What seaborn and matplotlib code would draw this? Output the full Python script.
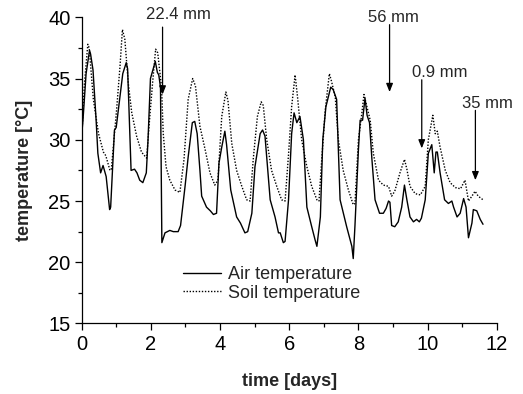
import matplotlib
matplotlib.use("Agg")
import matplotlib.pyplot as plt
import seaborn as sns
import pandas as pd

# Air temperature record (time in days, temperature in degC)
air_days = [0.00, 0.04, 0.13, 0.23, 0.26, 0.33, 0.42, 0.47, 0.55, 0.62, 0.71, 0.81, 0.84,
            0.95, 1.00, 1.10, 1.19, 1.29, 1.33, 1.43, 1.53, 1.60, 1.68, 1.77, 1.87, 1.92,
            1.99, 2.06, 2.13, 2.19, 2.23, 2.28, 2.32, 2.41, 2.55, 2.65, 2.79, 2.86, 2.99,
            3.08, 3.20, 3.27, 3.34, 3.42, 3.47, 3.61, 3.72, 3.81, 3.90, 3.97, 4.05, 4.14,
            4.19, 4.31, 4.48, 4.59, 4.72, 4.80, 4.92, 5.01, 5.16, 5.23, 5.30, 5.45, 5.59,
            5.69, 5.74, 5.83, 5.88, 5.98, 6.07, 6.14, 6.22, 6.31, 6.41, 6.51, 6.65, 6.75,
            6.80, 6.90, 6.97, 7.06, 7.13, 7.20, 7.27, 7.37, 7.47, 7.66, 7.81, 7.85, 7.90,
            8.00, 8.05, 8.12, 8.19, 8.25, 8.32, 8.39, 8.48, 8.61, 8.72, 8.80, 8.87, 8.91,
            8.96, 9.05, 9.15, 9.25, 9.33, 9.40, 9.49, 9.59, 9.68, 9.76, 9.82, 9.93, 10.02,
            10.12, 10.19, 10.24, 10.28, 10.36, 10.49, 10.60, 10.70, 10.75, 10.85, 10.94,
            11.04, 11.11, 11.18, 11.28, 11.32, 11.42, 11.52, 11.60]
air_temp = [30.3, 31.6, 35.4, 37.3, 37.0, 35.7, 31.6, 28.9, 27.3, 27.9, 27.0, 24.3, 24.5,
            30.8, 31.0, 33.3, 35.4, 36.3, 35.8, 27.5, 27.6, 27.3, 26.7, 26.5, 27.3, 30.0,
            35.0, 35.7, 36.4, 35.5, 35.3, 34.3, 21.6, 22.4, 22.6, 22.5, 22.5, 23.0, 26.2,
            28.6, 31.4, 31.5, 30.5, 27.5, 25.4, 24.5, 24.2, 23.9, 24.0, 28.1, 29.4, 30.7,
            29.6, 25.9, 23.7, 23.2, 22.4, 22.5, 24.0, 27.8, 30.5, 30.8, 30.3, 25.1, 23.7,
            22.4, 22.4, 21.6, 21.7, 25.1, 30.5, 32.2, 31.4, 31.9, 30.0, 24.5, 22.9, 21.8,
            21.3, 23.7, 30.0, 32.7, 33.5, 34.3, 34.1, 33.3, 25.1, 22.9, 21.3, 20.3, 23.0,
            29.2, 31.6, 31.6, 33.4, 32.0, 31.4, 28.4, 25.1, 24.0, 24.0, 24.4, 25.0, 24.9,
            23.0, 22.9, 23.3, 24.5, 26.3, 25.1, 23.7, 23.3, 23.5, 23.3, 23.6, 25.1, 28.9,
            29.6, 27.3, 29.0, 29.0, 27.3, 25.1, 24.8, 25.0, 24.5, 23.7, 24.0,
            25.2, 24.5, 22.0, 23.2, 24.3, 24.2, 23.5, 23.1]

# Soil temperature record
soil_days = [0.00, 0.08, 0.18, 0.22, 0.34, 0.49, 0.63, 0.70, 0.82, 0.86, 1.01, 1.11, 1.18,
             1.25, 1.35, 1.45, 1.59, 1.73, 1.88, 1.96, 2.05, 2.14, 2.20, 2.31, 2.36, 2.44,
             2.55, 2.70, 2.84, 2.96, 3.08, 3.21, 3.29, 3.42, 3.57, 3.71, 3.85, 3.94, 4.05,
             4.17, 4.23, 4.34, 4.48, 4.63, 4.77, 4.87, 4.96, 5.08, 5.19, 5.25, 5.35, 5.49,
             5.64, 5.78, 5.88, 5.98, 6.07, 6.17, 6.24, 6.36, 6.51, 6.65, 6.80, 6.86, 6.94,
             7.04, 7.16, 7.22, 7.33, 7.42, 7.56, 7.71, 7.85, 7.90, 8.00, 8.10, 8.16, 8.22,
             8.34, 8.43, 8.58, 8.72, 8.87, 8.96, 9.05, 9.20, 9.33, 9.40, 9.49, 9.64, 9.79,
             9.93, 10.02, 10.15, 10.22, 10.28, 10.36, 10.51, 10.65, 10.80, 10.95, 11.08,
             11.18, 11.28, 11.37, 11.46, 11.60]
soil_temp = [30.0, 34.5, 37.8, 37.5, 33.3, 30.5, 29.0, 28.7, 27.5, 27.6, 32.4, 36.0, 39.0,
             38.2, 34.6, 32.2, 30.3, 29.0, 28.5, 31.5, 34.6, 37.4, 37.1, 34.3, 30.5, 27.8,
             26.7, 25.9, 25.7, 28.4, 33.3, 35.0, 34.4, 31.1, 29.2, 27.3, 26.3, 26.7, 31.9,
             33.9, 33.2, 29.7, 27.5, 26.2, 25.1, 25.0, 28.4, 31.9, 33.1, 32.8, 30.0, 27.5,
             26.2, 25.1, 25.0, 28.8, 32.7, 35.3, 33.5, 30.0, 27.8, 26.2, 25.1, 25.0, 28.4,
             32.4, 35.4, 34.8, 33.5, 30.0, 27.5, 25.9, 24.7, 24.8, 30.0, 32.2, 33.7, 33.0,
             31.6, 28.9, 26.7, 26.3, 26.2, 25.4, 25.8, 27.3, 28.4, 27.6, 26.2, 25.6, 25.5,
             26.2, 30.0, 32.0, 30.5, 30.7, 29.4, 27.5, 26.5, 26.1, 26.0, 26.7,
             25.0, 25.4, 25.8, 25.4, 25.1]

# Rain events: label, day, arrow tail / tip temperature, label anchor
rain_labels = ["22.4 mm", "56 mm", "0.9 mm", "35 mm"]
rain_days = [2.34, 8.90, 9.83, 11.38]
arrow_top = [39.2, 39.4, 34.9, 32.4]
arrow_tip = [33.7, 33.9, 29.3, 26.7]
label_x = [2.81, 9.00, 10.36, 11.72]
label_y = [40.2, 40.0, 35.5, 33.0]

sns.set_style("ticks")
plt.rcParams["font.family"] = ["Liberation Sans", "DejaVu Sans"]
plt.rcParams["axes.edgecolor"] = "black"
plt.rcParams["xtick.color"] = "black"
plt.rcParams["ytick.color"] = "black"

df = pd.concat([
    pd.DataFrame({"day": air_days, "temp": air_temp, "series": "Air temperature"}),
    pd.DataFrame({"day": soil_days, "temp": soil_temp, "series": "Soil temperature"}),
], ignore_index=True)

fig = plt.figure(figsize=(5.23, 3.94), dpi=100)
ax = fig.add_axes([0.156, 0.179, 0.794, 0.777])

sns.lineplot(data=df, x="day", y="temp", style="series", color="black",
             dashes={"Air temperature": "", "Soil temperature": (1, 1.2)},
             estimator=None, sort=False, linewidth=1.0, ax=ax)

ax.set_xlim(0, 12)
ax.set_ylim(15, 40)
ax.set_xticks(range(0, 13, 2))
ax.set_xticks(range(1, 12, 2), minor=True)
ax.set_yticks(range(15, 41, 5))
ax.set_yticks([17.5, 22.5, 27.5, 32.5, 37.5], minor=True)
ax.tick_params(which="major", direction="out", length=5, width=0.9, labelsize=14.5, pad=3)
ax.tick_params(which="minor", direction="out", length=3, width=0.9)
sns.despine(ax=ax)
for s in ("left", "bottom"):
    ax.spines[s].set_linewidth(0.9)

ax.set_xlabel("time [days]", fontsize=13, fontweight="bold", labelpad=14)
ax.set_ylabel("temperature [°C]", fontsize=13, fontweight="bold", labelpad=11)

leg = ax.legend(frameon=False, loc="upper left", bbox_to_anchor=(0.245, 0.188),
                fontsize=13, handlelength=2.1, handletextpad=0.4, labelspacing=0.1,
                borderpad=0, borderaxespad=0)
for h in leg.get_lines():
    h.set_color("black")

for lab, d, top, tip, lx, ly in zip(rain_labels, rain_days, arrow_top, arrow_tip, label_x, label_y):
    ax.annotate("", xy=(d, tip), xytext=(d, top), annotation_clip=False,
                arrowprops=dict(arrowstyle="-|>,head_length=0.5,head_width=0.2",
                                color="black", lw=0.9, shrinkA=0, shrinkB=0))
    ax.text(lx, ly, lab, ha="center", va="center", fontsize=12, clip_on=False)

fig.savefig("out.png", dpi=100)
